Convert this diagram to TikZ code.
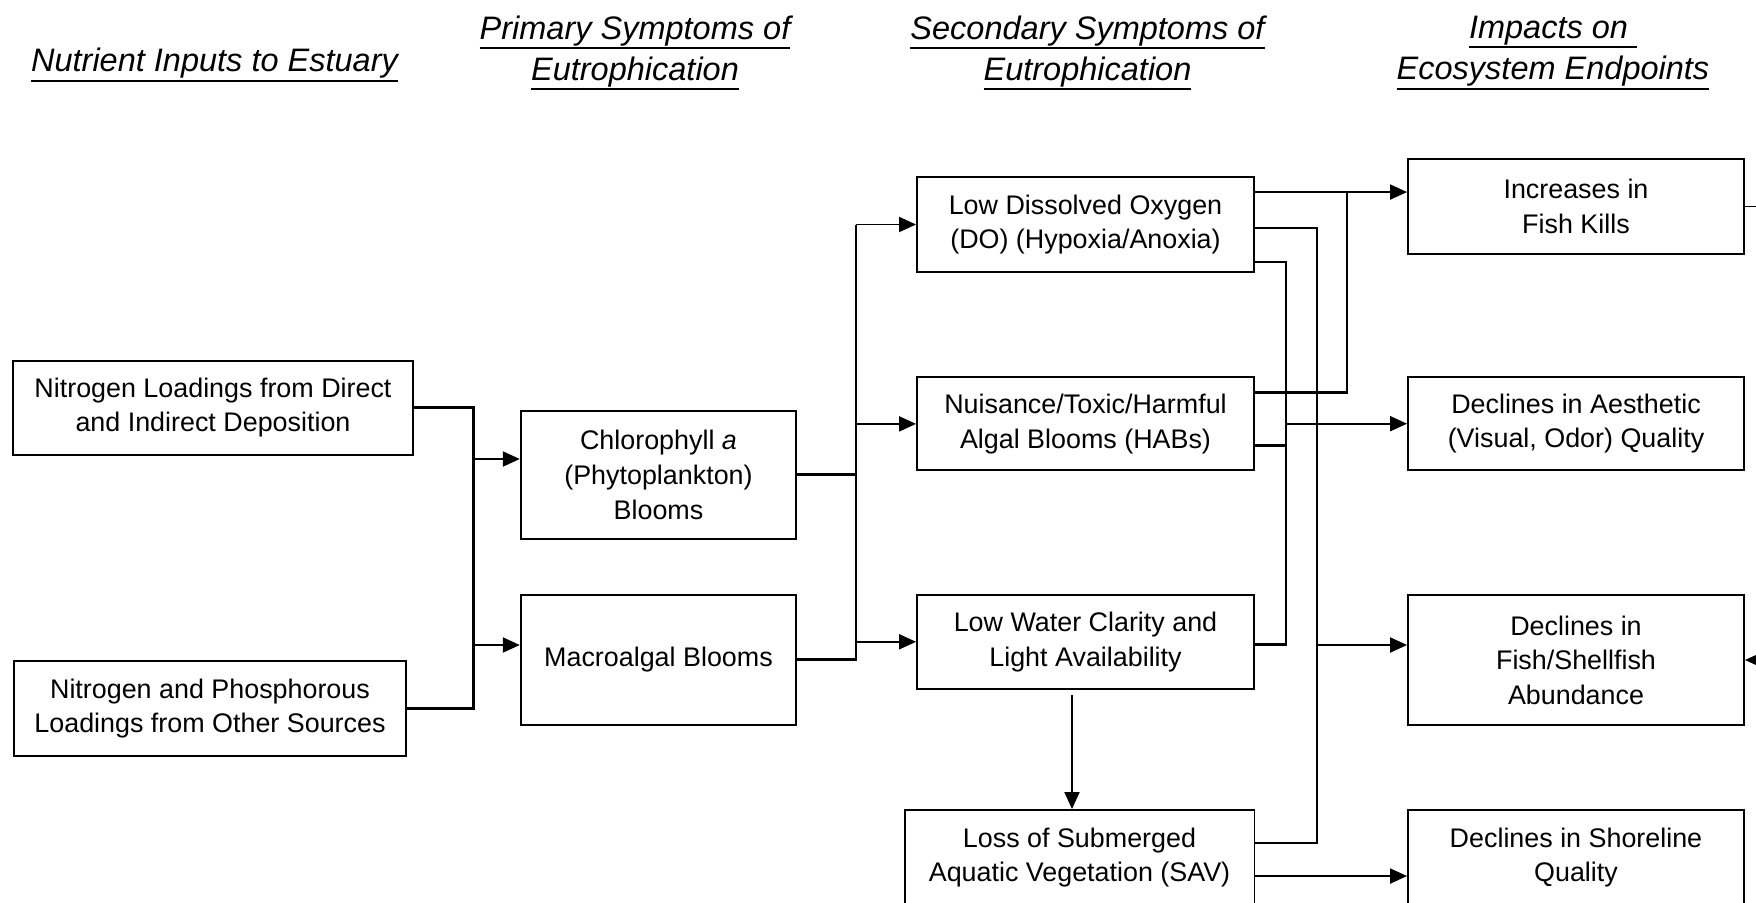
\documentclass[tikz,border=0pt]{standalone}
\usepackage{fontspec}
\setmainfont{Liberation Sans}
\usetikzlibrary{arrows.meta, calc}

\newcommand\headul[1]{\leavevmode\vtop{\hbox{#1}\kern0.6pt\hrule height 1.2pt}}

\begin{document}
\begin{tikzpicture}[x=0.02cm, y=-0.02cm,
  box node/.style={draw, line width=1.1pt, inner sep=0pt, align=center, font=\fontsize{15.3}{19.7}\selectfont},
  head node/.style={align=center, font=\fontsize{18.5}{23.5}\selectfont\itshape},
  link/.style={line width=1.6pt},
  arr/.style={line width=1.1pt, -{Triangle[length=0.34cm, width=0.3cm]}}]

        \useasboundingbox (0,0) rectangle (1756,903);

        % Headings
        \node[head node] (hin) at (214.5,65) {\headul{Nutrient Inputs to Estuary}};
        \node[head node] (hpri) at (635,53) {\headul{Primary Symptoms of}\\\headul{Eutrophication}};
        \node[head node] (hsec) at (1087.5,53) {\headul{Secondary Symptoms of}\\\headul{Eutrophication}};
        \node[head node] (himp) at (1553,53) {\headul{Impacts on\ }\\\headul{Ecosystem Endpoints}};

        % Inputs
        \node[box node, minimum width=8cm, minimum height=1.88cm] (N1) at (213,407.7) {Nitrogen Loadings from Direct\\and Indirect Deposition};
        \node[box node, minimum width=7.86cm, minimum height=1.9cm] (N2) at (210,708.4) {Nitrogen and Phosphorous\\Loadings from Other Sources};

        % Primary symptoms
        \node[box node, minimum width=5.51cm, minimum height=2.56cm] (Chl) at (658.5,474.9) {Chlorophyll \textit{a}\\(Phytoplankton)\\Blooms};
        \node[box node, minimum width=5.51cm, minimum height=2.6cm] (Mac) at (658.5,659.7) {Macroalgal Blooms};

        % Secondary symptoms
        \node[box node, minimum width=6.74cm, minimum height=1.9cm] (DO) at (1085.5,224.5) {Low Dissolved Oxygen\\(DO) (Hypoxia/Anoxia)};
        \node[box node, minimum width=6.74cm, minimum height=1.86cm] (HAB) at (1085.5,423.9) {Nuisance/Toxic/Harmful\\Algal Blooms (HABs)};
        \node[box node, minimum width=6.74cm, minimum height=1.88cm] (LW) at (1085.5,641.8) {Low Water Clarity and\\Light Availability};
        \node[box node, minimum width=7cm, minimum height=1.9cm] (SAV) at (1079.5,857.5) {Loss of Submerged\\Aquatic Vegetation (SAV)};

        % Endpoints
        \node[box node, minimum width=6.72cm, minimum height=1.9cm] (FK) at (1576,206.5) {Increases in\\Fish Kills};
        \node[box node, minimum width=6.72cm, minimum height=1.86cm] (AE) at (1576,423.7) {Declines in Aesthetic\\(Visual, Odor) Quality};
        \node[box node, minimum width=6.72cm, minimum height=2.6cm] (FS) at (1576,660) {Declines in\\Fish/Shellfish\\Abundance};
        \node[box node, minimum width=6.72cm, minimum height=1.9cm] (SH) at (1576,857.5) {Declines in Shoreline\\Quality};

        % Bus points
        \coordinate (inA) at (473.5,459);
        \coordinate (inB) at (473.5,645);
        \coordinate (midA) at ($(DO.west)+(-60,0)$);
        \coordinate (vA) at (1286,0);
        \coordinate (vB) at (1317,0);
        \coordinate (vC) at (1347,0);
        \coordinate (do1) at ($(DO.north east)+(0,16)$);
        \coordinate (do2) at ($(DO.east)+(0,3.5)$);
        \coordinate (do3) at ($(DO.south east)+(0,-11)$);
        \coordinate (hab1) at ($(HAB.north east)+(0,16)$);
        \coordinate (hab2) at ($(HAB.south east)+(0,-26)$);
        \coordinate (lw1) at ($(LW.east)+(0,3)$);
        \coordinate (lw2) at ($(LW.south)+(-13.5,5)$);
        \coordinate (sav1) at ($(SAV.north east)+(0,34)$);
        \coordinate (sav2) at ($(SAV.north east)+(0,67)$);
        \coordinate (fs1) at ($(FS.west)+(0,-15)$);

        % Edges
        \draw[link] (N1.east) -| (inB |- N2.east) -- (N2.east);
        \draw[arr] (inA) -- (inA -| Chl.west);
        \draw[arr] (inB) -- (inB -| Mac.west);

        \draw[link] (Chl.east) -- (Chl.east -| midA);
        \draw[link] (Mac.east) -| (midA);
        \foreach \n in {DO, HAB, LW} {
            \draw[arr] (midA |- \n.west) -- (\n.west);
        }

        \draw[arr] (do1) -- (do1 -| FK.west);
        \draw[link] (hab1) -| (vC |- do1);
        \draw[link] (do2) -| (vB |- sav1) -- (sav1);
        \draw[link] (do3) -| (vA |- lw1) -- (lw1);
        \draw[link] (hab2) -- (hab2 -| vA);
        \draw[arr] (vA |- AE.west) -- (AE.west);
        \draw[arr] (vB |- fs1) -- (fs1);
        \draw[arr] (lw2) -- (lw2 |- SAV.north);
        \draw[arr] (sav2) -- (sav2 -| SH.west);
        \draw[arr] (FK.east) -- ++(40,0) |- (FS.east);
    \end{tikzpicture}
\end{document}
